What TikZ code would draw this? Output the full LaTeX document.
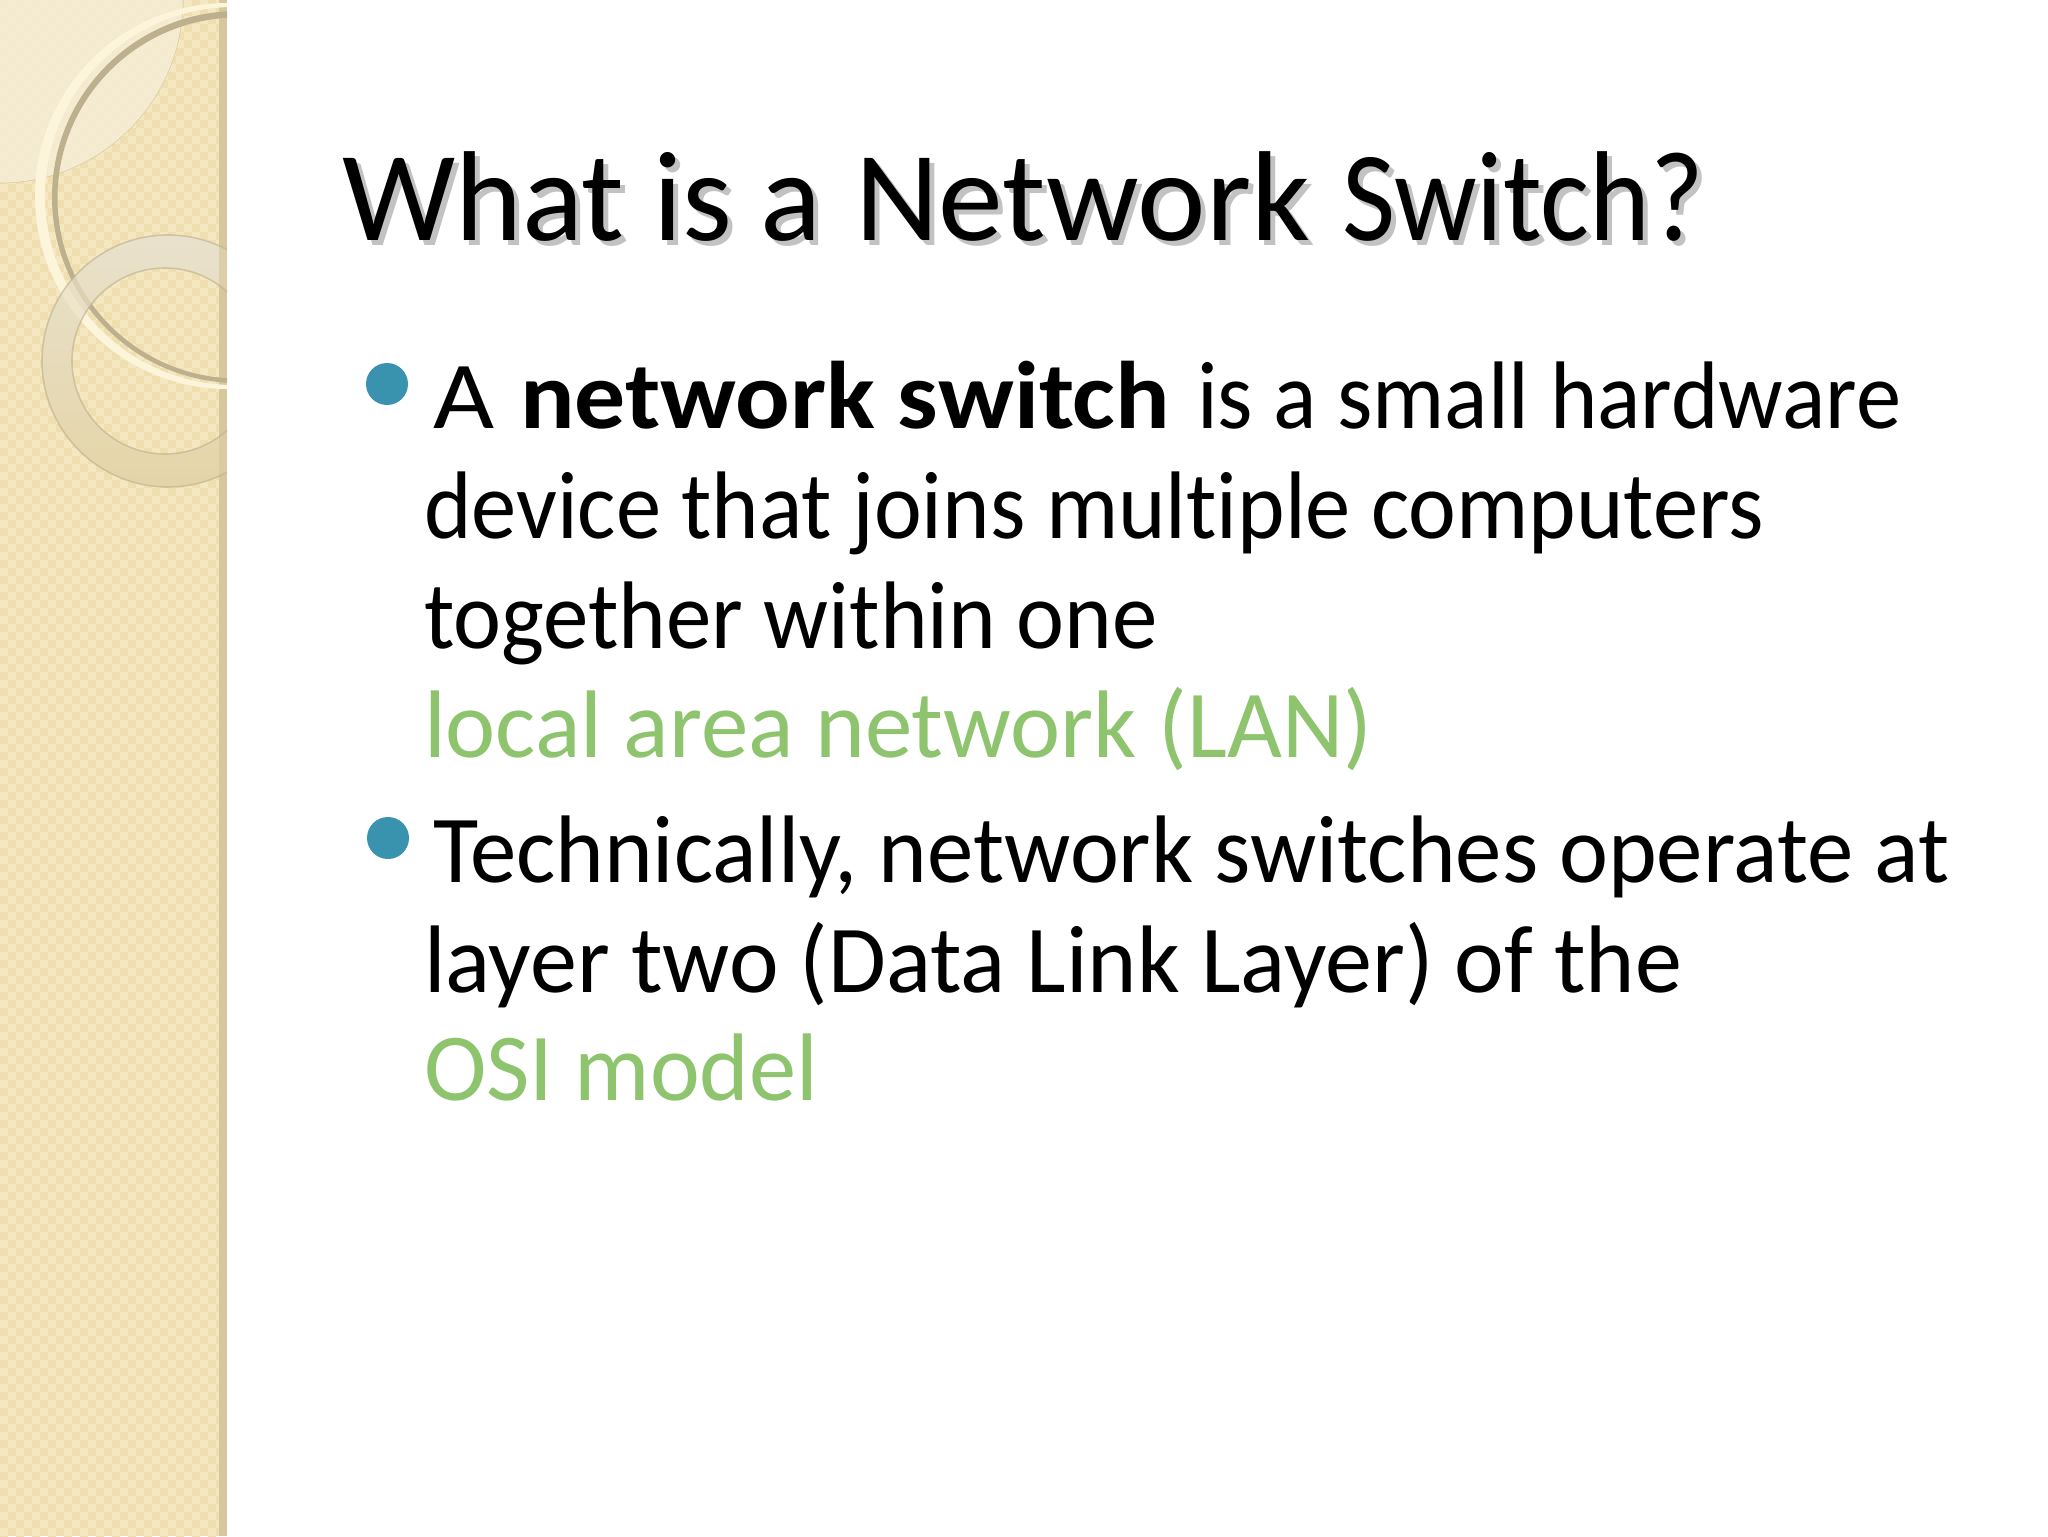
\documentclass[tikz,border=0pt]{standalone}
\usepackage{fontspec}
\usepackage{graphicx}
\setmainfont[Ligatures=NoCommon]{Carlito}
\definecolor{sand}{HTML}{F5E7BF}
\definecolor{sandlight}{HTML}{EFDFB0}
\definecolor{strip}{HTML}{D6C79D}
\definecolor{linkgreen}{HTML}{8FC46F}
\definecolor{bullet}{HTML}{3A93AE}
\definecolor{shadowgrey}{HTML}{C2C2C2}
\definecolor{arcdark}{HTML}{BDB08E}
\definecolor{arclight}{HTML}{FCF5DC}
\definecolor{ringtop}{HTML}{E9E2CE}
\definecolor{ringbottom}{HTML}{E4D4A6}
\definecolor{quarter}{HTML}{F6EDD6}
\newcommand{\fitline}[2]{\resizebox{#1}{\height}{\strut #2}}
\newcommand{\titlewords}{\fitline{240pt}{What is a}\hspace{16.5pt}\fitline{227.5pt}{Network}\hspace{16pt}\fitline{181pt}{Switch?}}
\tikzset{
  x=0.5pt,y=-0.5pt,
  body/.style={anchor=base west,inner sep=0pt,outer sep=0pt,font=\fontsize{48}{48}\selectfont},
  titletext/.style={anchor=base west,inner sep=0pt,outer sep=0pt,font=\fontsize{64}{64}\selectfont},
  dotmark/.style={circle,fill=bullet,inner sep=0pt,minimum size=21pt}
}
\begin{document}
\begin{tikzpicture}
\useasboundingbox (0,0) rectangle (2048,1536);
\fill[white] (0,0) rectangle (2048,1536);
\fill[sand] (0,0) rectangle (227,1536);
\begin{scope}
\clip (0,0) rectangle (219,1536);
\foreach \i in {0,...,27}{
  \foreach \j in {0,...,192}{
    \pgfmathtruncatemacro{\k}{mod(\i+\j,2)}
    \ifnum\k=0
      \fill[sandlight] (\i*8,\j*8) rectangle ++(8,8);
    \fi
  }
}
\end{scope}
\fill[strip] (219,0) rectangle (227,1536);
\begin{scope}
\clip (0,0) rectangle (227,1536);
\fill[quarter,opacity=.85] (0,0) -- (183,0) arc[start angle=0,end angle=90,radius=183] -- cycle;
\draw[arcdark,opacity=.5,line width=.3pt] (183,0) arc[start angle=0,end angle=90,radius=183];
\fill[arclight,even odd rule] (228,196) circle[radius=193] (234,196) circle[radius=189];
\fill[arcdark,even odd rule] (238,197) circle[radius=186] (238,198) circle[radius=180.5];
\begin{scope}[even odd rule]
\clip (168,361) circle[radius=126] (165,361) circle[radius=93];
\shade[top color=ringtop,bottom color=ringbottom] (30,220) rectangle (300,500);
\fill[arclight,opacity=.35,even odd rule] (228,196) circle[radius=193] (234,196) circle[radius=189];
\fill[arcdark,opacity=.3,even odd rule] (238,197) circle[radius=186] (238,198) circle[radius=180.5];
\fill[strip,opacity=.7] (219,220) rectangle (227,500);
\end{scope}
\draw[arcdark,opacity=.6,line width=.8pt] (168,361) circle[radius=126] (165,361) circle[radius=93];
\end{scope}
\node[titletext,text=shadowgrey] (titleshadow) at (347,245) {\titlewords};
\node[titletext] (title) at (342,240) {\titlewords};
\node[dotmark] (dotone) at (387,384) {};
\node[dotmark] (dottwo) at (388,838) {};
\node[body] (l1) at (433,428) {\fitline{30.5pt}{A}\hspace{13pt}\fitline{325pt}{\textbf{network switch}}\hspace{13.5pt}\fitline{352pt}{is a small hardware}};
\node[body] (l2) at (424,538) {\fitline{670pt}{device that joins multiple computers}};
\node[body] (l3) at (424,648) {\fitline{367pt}{together within one}};
\node[body,text=linkgreen] (l4) at (424,757) {\fitline{474pt}{local area network (LAN)}};
\node[body] (l5) at (433,882) {\fitline{758pt}{Technically, network switches operate at}};
\node[body] (l6) at (424,992) {\fitline{629pt}{layer two (Data Link Layer) of the}};
\node[body,text=linkgreen] (l7) at (424,1100) {\fitline{197pt}{OSI model}};
\end{tikzpicture}
\end{document}
